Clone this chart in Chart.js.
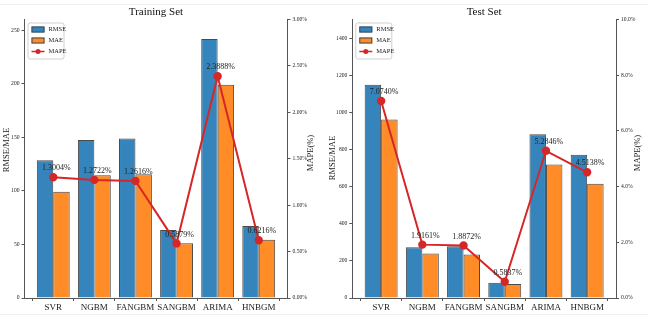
<!DOCTYPE html>
<html>
<head>
<meta charset="UTF-8">
<title>Training / Test Set</title>
<script src="https://cdn.jsdelivr.net/npm/chart.js@4/dist/chart.umd.min.js"></script>
<style>
    body { margin: 0; background: #fff; }
    .wrap { position: relative; width: 648px; height: 321px; }
    .frame { position: absolute; left: 0; right: 0; border-top: 1px solid #f1f1f1; }
    #left { position: absolute; left: 0; top: 0; }
    #right { position: absolute; left: 320px; top: 0; }
</style>
</head>
<body>
<div class="wrap">
    <div class="frame" style="top:4px"></div>
    <div class="frame" style="top:314px"></div>
    <canvas id="left" width="320" height="321"></canvas>
    <canvas id="right" width="328" height="321"></canvas>
</div>
<script>
const models = ['SVR', 'NGBM', 'FANGBM', 'SANGBM', 'ARIMA', 'HNBGM'];

// training set
const trainRmse = [128.7, 147.4, 149.0, 63.5, 241.9, 67.2];
const trainMae = [99.3, 114.7, 115.5, 51.2, 199.0, 54.3];
const trainMape = [1.3004, 1.2722, 1.2616, 0.5879, 2.3888, 0.6216];
const trainTicksLeft = [0, 50, 100, 150, 200, 250];

// test set
const testRmse = [1149, 273, 279, 82, 882, 772];
const testMae = [962, 240, 234, 76, 719, 616];
const testMape = [7.0740, 1.9161, 1.8872, 0.5837, 5.2846, 4.5138];
const testTicksLeft = [0, 200, 400, 600, 800, 1000, 1200, 1400];

const BLUE = 'rgba(31,119,180,0.9)';
const ORANGE = 'rgba(255,127,14,0.9)';
const RED = '#d62728';
const EDGE = '#4a4a4a';
const FONT = "'Liberation Serif', 'DejaVu Serif', serif";

function pts(arr) {
    return arr.map((v, i) => ({ x: i, y: v }));
}

// text above the MAPE points, legend box, title and axis titles
const decorations = {
    id: 'decorations',
    afterDatasetsDraw(chart, args, opts) {
        const ctx = chart.ctx;
        const meta = chart.getDatasetMeta(2);
        ctx.save();
        ctx.fillStyle = '#222';
        ctx.font = '8px ' + FONT;
        ctx.textAlign = 'center';
        ctx.textBaseline = 'middle';
        meta.data.forEach((p, i) => {
            ctx.fillText(opts.mape[i].toFixed(4) + '%', p.x + 3, p.y - 9);
        });

        // legend
        const a = chart.chartArea;
        const lx = a.left + 3, ly = a.top + 3;
        ctx.fillStyle = 'rgba(255,255,255,0.85)';
        ctx.strokeStyle = '#d0d0d0';
        ctx.lineWidth = 1;
        ctx.beginPath();
        ctx.roundRect(lx + 0.5, ly + 0.5, 36, 36, 2);
        ctx.fill();
        ctx.stroke();
        ctx.font = '6.5px ' + FONT;
        ctx.textAlign = 'left';
        const rows = [['RMSE', BLUE], ['MAE', ORANGE], ['MAPE', RED]];
        rows.forEach((r, i) => {
            const cy = ly + 7 + i * 11;
            if (i < 2) {
                ctx.fillStyle = r[1];
                ctx.fillRect(lx + 4, cy - 3, 13, 6);
                ctx.strokeStyle = EDGE;
                ctx.strokeRect(lx + 4.5, cy - 2.5, 12, 5);
            } else {
                ctx.strokeStyle = RED;
                ctx.lineWidth = 1.5;
                ctx.beginPath();
                ctx.moveTo(lx + 4, cy);
                ctx.lineTo(lx + 17, cy);
                ctx.stroke();
                ctx.fillStyle = RED;
                ctx.beginPath();
                ctx.arc(lx + 10.5, cy, 2.5, 0, Math.PI * 2);
                ctx.fill();
            }
            ctx.fillStyle = '#222';
            ctx.fillText(r[0], lx + 21, cy);
        });

        // title
        ctx.font = '11px ' + FONT;
        ctx.textAlign = 'center';
        ctx.fillStyle = '#111';
        ctx.fillText(opts.title, (a.left + a.right) / 2, 12);

        // axis titles
        ctx.font = '8.5px ' + FONT;
        ctx.fillStyle = '#222';
        [[opts.leftTitleX, opts.leftTitleY, 'RMSE/MAE'], [opts.rightTitleX, opts.rightTitleY, 'MAPE(%)']].forEach(t => {
            ctx.save();
            ctx.translate(t[0], t[1]);
            ctx.rotate(-Math.PI / 2);
            ctx.fillText(t[2], 0, 0);
            ctx.restore();
        });
        ctx.restore();
    }
};

function makeChart(id, title, rmse, mae, mape, leftTicks, leftMax, rightMax, rightStep, rightDigits, box) {
    return new Chart(document.getElementById(id), {
        data: {
            datasets: [
                { type: 'bar', label: 'RMSE', data: pts(rmse), backgroundColor: BLUE, borderColor: EDGE, borderWidth: 1, yAxisID: 'y', order: 2 },
                { type: 'bar', label: 'MAE', data: pts(mae), backgroundColor: ORANGE, borderColor: EDGE, borderWidth: 1, yAxisID: 'y', order: 2 },
                { type: 'line', label: 'MAPE', data: pts(mape), borderColor: RED, backgroundColor: RED, borderWidth: 2,
                  pointRadius: 3.2, pointHoverRadius: 3.2, yAxisID: 'y1', order: 1, tension: 0 }
            ]
        },
        options: {
            responsive: false,
            animation: false,
            layout: { padding: { top: box.top, left: 0, right: 0, bottom: 0 } },
            datasets: { bar: { barPercentage: 1.0, categoryPercentage: 0.8, grouped: true } },
            plugins: {
                legend: { display: false },
                tooltip: { enabled: false },
                decorations: { mape: mape, title: title,
                    leftTitleX: box.ltx, leftTitleY: box.lty, rightTitleX: box.rtx, rightTitleY: box.rty }
            },
            scales: {
                x: {
                    type: 'linear',
                    min: -0.7,
                    max: 5.7,
                    offset: false,
                    grid: { display: true, drawOnChartArea: false, drawTicks: true, tickLength: 3, color: '#555' },
                    border: { color: '#555', width: 1 },
                    ticks: {
                        stepSize: 1,
                        includeBounds: false,
                        autoSkip: false,
                        maxRotation: 0,
                        color: '#222',
                        font: { family: FONT, size: 9 },
                        padding: 1,
                        callback: v => Number.isInteger(v) ? models[v] : ''
                    },
                    afterFit: s => { s.height = box.bottom; }
                },
                y: {
                    position: 'left',
                    min: 0,
                    max: leftMax,
                    afterBuildTicks: s => { s.ticks = leftTicks.map(v => ({ value: v })); },
                    grid: { display: true, drawOnChartArea: false, drawTicks: true, tickLength: 3, color: '#555' },
                    border: { color: '#555', width: 1 },
                    ticks: { color: '#222', font: { family: FONT, size: 5.6 }, padding: 2, callback: v => String(v) },
                    afterFit: s => { s.width = box.left; }
                },
                y1: {
                    position: 'right',
                    min: 0,
                    max: rightMax,
                    grid: { display: true, drawOnChartArea: false, drawTicks: true, tickLength: 3, color: '#555' },
                    border: { color: '#555', width: 1 },
                    ticks: { stepSize: rightStep, color: '#222', font: { family: FONT, size: 5.6 }, padding: 2,
                             callback: v => v.toFixed(rightDigits) + '%' },
                    afterFit: s => { s.width = box.right; }
                }
            }
        },
        plugins: [decorations]
    });
}

makeChart('left', 'Training Set', trainRmse, trainMae, trainMape, trainTicksLeft, 260, 3, 0.5, 2,
    { top: 19.5, left: 24.5, right: 32.5, bottom: 23, ltx: 7, lty: 150, rtx: 311, rty: 153 });
makeChart('right', 'Test Set', testRmse, testMae, testMape, testTicksLeft, 1500, 10, 2, 1,
    { top: 19.5, left: 32.3, right: 32, bottom: 23, ltx: 13, lty: 158, rtx: 318, rty: 153 });
</script>
</body>
</html>
